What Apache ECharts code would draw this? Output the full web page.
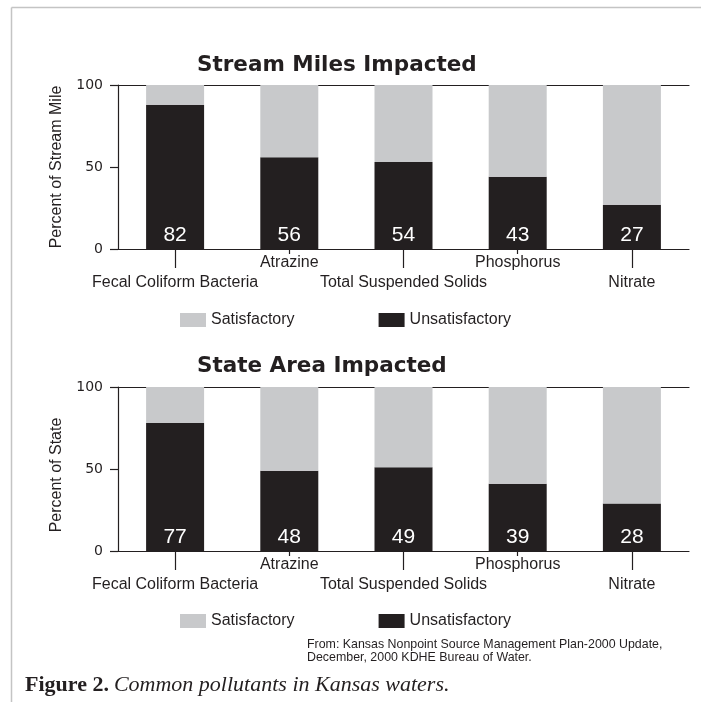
<!DOCTYPE html>
<html>
<head>
<meta charset="utf-8">
<script src="https://cdn.jsdelivr.net/npm/echarts@6/dist/echarts.min.js"></script>
<style>
  html, body { margin: 0; padding: 0; background: #fff; }
  #chart { width: 701px; height: 702px; }
</style>
</head>
<body>
<div id="chart"></div>
<script>
// pollutants on the x axis
const categories = ['Fecal Coliform Bacteria', 'Atrazine', 'Total Suspended Solids', 'Phosphorus', 'Nitrate']
// Stream Miles Impacted (bar heights, printed labels)
const streamUnsat = [88, 56, 53, 44, 27]
const streamSat = [12, 44, 47, 56, 73]
const streamLabels = [82, 56, 54, 43, 27]
// State Area Impacted
const stateUnsat = [78, 49, 51, 41, 29]
const stateSat = [22, 51, 49, 59, 71]
const stateLabels = [77, 48, 49, 39, 28]
// y axis ticks
const yTicks = [0, 50, 100]

const ink = '#231f20'
const gray = '#c8c9cb'
const black = '#231f20'

const myChart = echarts.init(document.getElementById('chart'))

const labelFont = {
  color: ink,
  fontFamily: 'Liberation Sans',
  fontSize: 16,
}

// three x axes per grid: lower labels + long ticks, upper labels + short ticks, top line
const makeXAxes = (gridIndex) => [
  {
    type: 'category',
    gridIndex: gridIndex,
    position: 'bottom',
    data: categories,
    axisLine: { show: true, lineStyle: { color: ink, width: 1.2 } },
    axisTick: {
      show: true,
      alignWithLabel: true,
      length: 19,
      lineStyle: { color: ink, width: 1.2 },
    },
    axisLabel: {
      ...labelFont,
      interval: (index) => index % 2 === 0,
      margin: 26,
    },
  },
  {
    type: 'category',
    gridIndex: gridIndex,
    position: 'bottom',
    offset: 0,
    data: categories,
    axisLine: { show: false },
    axisTick: {
      show: true,
      alignWithLabel: true,
      length: 5,
      lineStyle: { color: ink, width: 1.2 },
    },
    axisLabel: {
      ...labelFont,
      interval: (index) => index % 2 === 1,
      margin: 6,
    },
  },
  {
    type: 'category',
    gridIndex: gridIndex,
    position: 'top',
    data: categories,
    axisLine: { show: true, lineStyle: { color: ink, width: 1.2 } },
    axisTick: { show: false },
    axisLabel: { show: false },
  },
]

const makeYAxis = (gridIndex, name, shift) => ({
  type: 'value',
  gridIndex: gridIndex,
  min: yTicks[0],
  max: yTicks[yTicks.length - 1],
  interval: yTicks[1] - yTicks[0],
  name: name,
  nameLocation: 'middle',
  nameGap: 53,
  nameTextStyle: {
    color: ink,
    fontFamily: 'Liberation Sans',
    fontSize: 16,
    padding: [0, shift, 0, 0],
  },
  axisLine: { show: true, lineStyle: { color: ink, width: 1.2 } },
  axisTick: { show: true, length: 8, lineStyle: { color: ink, width: 1.2 } },
  splitLine: { show: false },
  axisLabel: {
    margin: 15,
    color: ink,
    fontFamily: 'DejaVu Sans',
    fontSize: 14,
  },
})

const makeSeries = (axisIndex, unsat, sat, labels) => [
  {
    name: 'Unsatisfactory',
    type: 'bar',
    stack: 'total' + axisIndex,
    xAxisIndex: axisIndex,
    yAxisIndex: axisIndex / 3,
    barWidth: 58,
    data: unsat,
    itemStyle: { color: black },
    label: {
      show: true,
      position: 'insideBottom',
      distance: 3,
      color: '#fff',
      fontFamily: 'Liberation Sans',
      fontSize: 21,
      formatter: (p) => String(labels[p.dataIndex]),
    },
  },
  {
    name: 'Satisfactory',
    type: 'bar',
    stack: 'total' + axisIndex,
    xAxisIndex: axisIndex,
    yAxisIndex: axisIndex / 3,
    barWidth: 58,
    data: sat,
    itemStyle: { color: gray },
  },
]

const legendBase = {
  left: 180,
  padding: 0,
  itemWidth: 26,
  itemHeight: 14,
  itemGap: 84,
  icon: 'rect',
  data: ['Satisfactory', 'Unsatisfactory'],
  textStyle: { color: ink, fontFamily: 'Liberation Sans', fontSize: 16 },
  selectedMode: false,
}

const titleStyle = { color: ink, fontFamily: 'DejaVu Sans', fontSize: 21.5, fontWeight: 'bold' }

const options = {
  animation: false,
  title: [
    { text: 'Stream Miles Impacted', left: 197, top: 54, padding: 0, textStyle: titleStyle },
    { text: 'State Area Impacted', left: 197, top: 355, padding: 0, textStyle: titleStyle },
    {
      text: 'From: Kansas Nonpoint Source Management Plan-2000 Update,\nDecember, 2000 KDHE Bureau of Water.',
      left: 307,
      top: 638,
      padding: 0,
      textStyle: { color: ink, fontFamily: 'Liberation Sans', fontSize: 12.4, fontWeight: 'normal', lineHeight: 13 },
    },
    {
      text: '{b|Figure 2.} {i|Common pollutants in Kansas waters.}',
      left: 25,
      top: 674,
      padding: 0,
      textStyle: {
        fontWeight: 'normal',
        rich: {
          b: { color: ink, fontFamily: 'Liberation Serif', fontSize: 22, fontWeight: 'bold' },
          i: { color: ink, fontFamily: 'Liberation Serif', fontSize: 22, fontWeight: 'normal', fontStyle: 'italic' },
        },
      },
    },
  ],
  legend: [
    Object.assign({}, legendBase, { top: 312 }),
    Object.assign({}, legendBase, { top: 613 }),
  ],
  grid: [
    { left: 118, top: 85, width: 571, height: 164 },
    { left: 118, top: 387, width: 571, height: 164 },
  ],
  xAxis: [...makeXAxes(0), ...makeXAxes(1)],
  yAxis: [makeYAxis(0, 'Percent of Stream Mile', 0), makeYAxis(1, 'Percent of State', 12)],
  series: [
    ...makeSeries(0, streamUnsat, streamSat, streamLabels),
    ...makeSeries(3, stateUnsat, stateSat, stateLabels),
  ],
  graphic: [
    // light frame round the figure
    { type: 'line', silent: true, shape: { x1: 11.5, y1: 7.5, x2: 701, y2: 7.5 }, style: { stroke: '#c4c4c4', lineWidth: 1.5 } },
    { type: 'line', silent: true, shape: { x1: 11.5, y1: 7.5, x2: 11.5, y2: 702 }, style: { stroke: '#c4c4c4', lineWidth: 1.5 } },
  ],
}

myChart.setOption(options)
</script>
</body>
</html>
